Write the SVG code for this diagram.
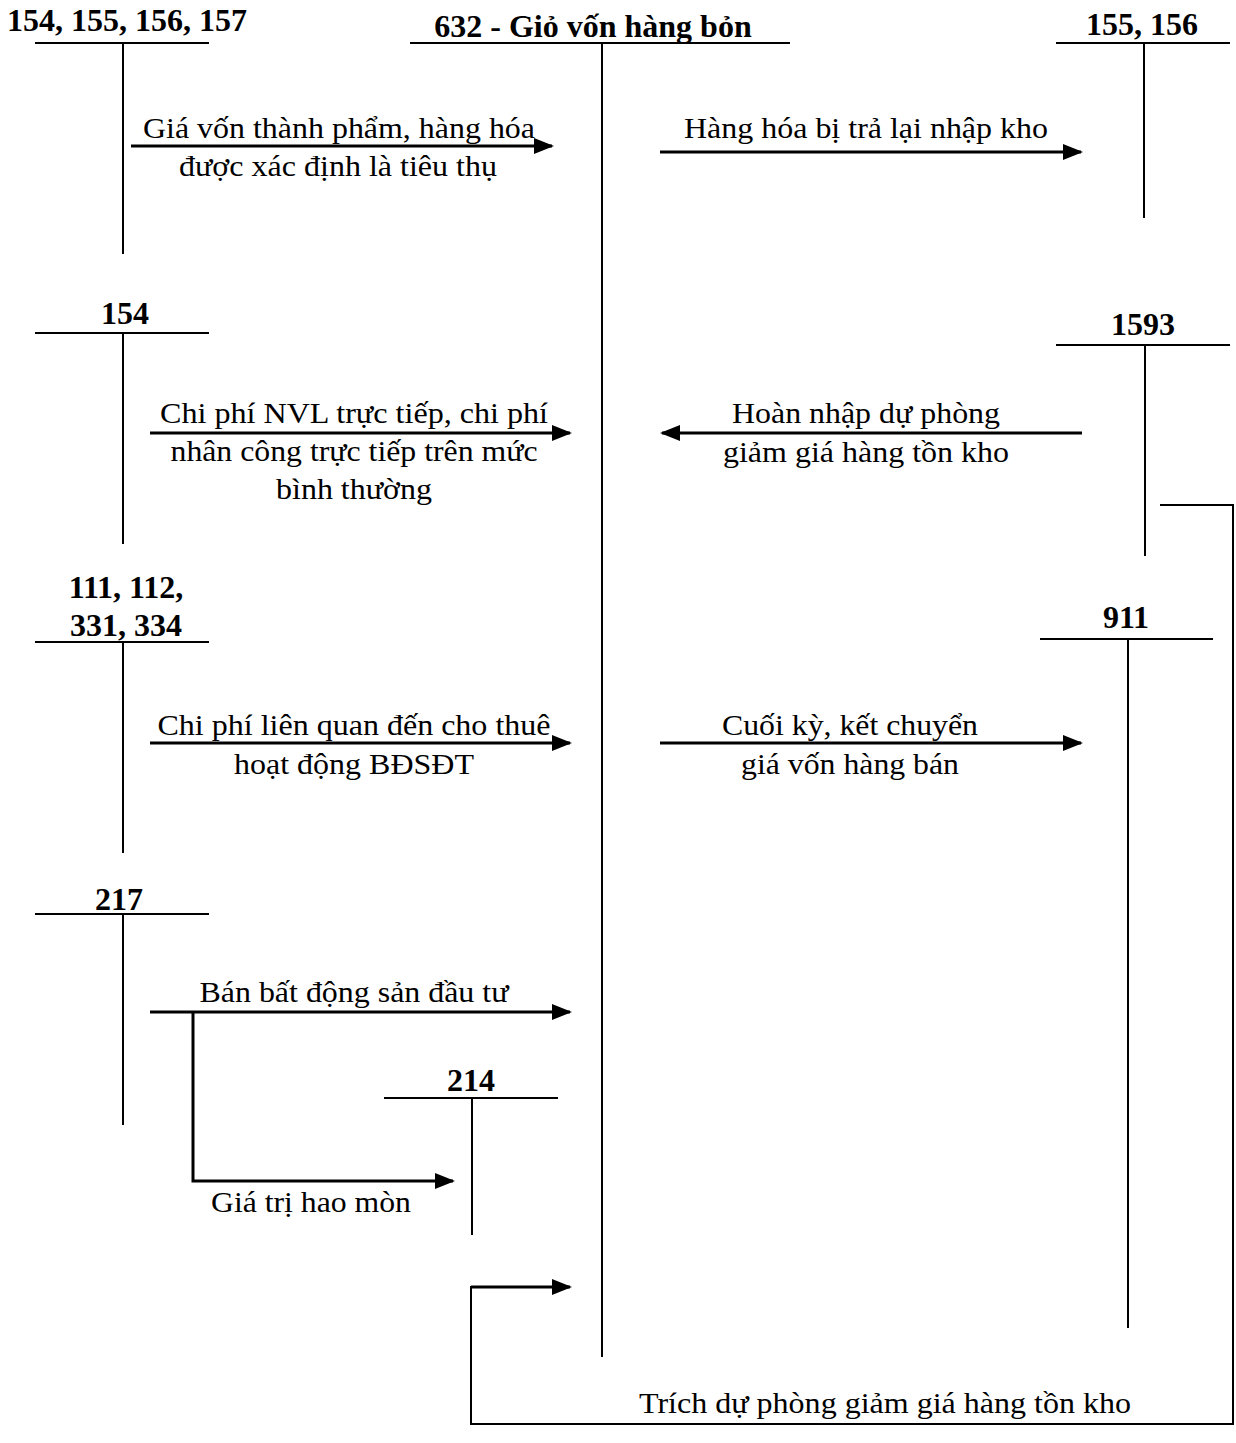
<svg xmlns="http://www.w3.org/2000/svg" width="1236" height="1443" viewBox="0 0 1236 1443">
<style>
.lbl{font-family:"Liberation Serif","Times New Roman",serif;font-weight:bold;font-size:32px;fill:#000;text-anchor:middle}
.txt{font-family:"Liberation Serif","Times New Roman",serif;font-size:30px;fill:#000;text-anchor:middle}
.t{stroke:#000;stroke-width:2;fill:none}
.a{stroke:#000;stroke-width:3;fill:none}
</style>
<defs>
<marker id="ah" markerUnits="userSpaceOnUse" markerWidth="20" markerHeight="16" refX="18" refY="8" orient="auto">
<path d="M0,0 L20,8 L0,16 Z" fill="#000"/>
</marker>
</defs>
<rect width="1236" height="1443" fill="#fff"/>

<g id="acc-154-157">
<text class="lbl" x="127" y="31">154, 155, 156, 157</text>
<line class="t" x1="35" y1="43" x2="209" y2="43"/>
<line class="t" x1="123" y1="43" x2="123" y2="254"/>
</g>
<g id="acc-632">
<text class="lbl" x="593" y="37">632 - Giỏ vốn hàng bỏn</text>
<line class="t" x1="410" y1="43" x2="790" y2="43"/>
<line class="t" x1="602" y1="43" x2="602" y2="1357"/>
</g>
<g id="acc-155-156">
<text class="lbl" x="1142" y="35">155, 156</text>
<line class="t" x1="1056" y1="43" x2="1230" y2="43"/>
<line class="t" x1="1144" y1="43" x2="1144" y2="218"/>
</g>
<g id="acc-154">
<text class="lbl" x="125" y="324">154</text>
<line class="t" x1="35" y1="333" x2="209" y2="333"/>
<line class="t" x1="123" y1="333" x2="123" y2="544"/>
</g>
<g id="acc-1593">
<text class="lbl" x="1143" y="335">1593</text>
<line class="t" x1="1056" y1="345" x2="1230" y2="345"/>
<line class="t" x1="1145" y1="345" x2="1145" y2="556"/>
</g>
<g id="acc-111-334">
<text class="lbl" x="126" y="598">111, 112,</text>
<text class="lbl" x="126" y="636">331, 334</text>
<line class="t" x1="35" y1="642" x2="209" y2="642"/>
<line class="t" x1="123" y1="642" x2="123" y2="853"/>
</g>
<g id="acc-911">
<text class="lbl" x="1126" y="628">911</text>
<line class="t" x1="1040" y1="639" x2="1213" y2="639"/>
<line class="t" x1="1128" y1="639" x2="1128" y2="1328"/>
</g>
<g id="acc-217">
<text class="lbl" x="119" y="910">217</text>
<line class="t" x1="35" y1="914" x2="209" y2="914"/>
<line class="t" x1="123" y1="914" x2="123" y2="1125"/>
</g>
<g id="acc-214">
<text class="lbl" x="471" y="1091">214</text>
<line class="t" x1="384" y1="1098" x2="558" y2="1098"/>
<line class="t" x1="472" y1="1098" x2="472" y2="1235"/>
</g>

<g id="connectors">
<line class="a" x1="131" y1="146" x2="552" y2="146" marker-end="url(#ah)"/>
<line class="a" x1="660" y1="152" x2="1081" y2="152" marker-end="url(#ah)"/>
<line class="a" x1="150" y1="433" x2="570" y2="433" marker-end="url(#ah)"/>
<line class="a" x1="1082" y1="433" x2="662" y2="433" marker-end="url(#ah)"/>
<line class="a" x1="150" y1="743" x2="570" y2="743" marker-end="url(#ah)"/>
<line class="a" x1="660" y1="743" x2="1081" y2="743" marker-end="url(#ah)"/>
<line class="a" x1="150" y1="1012" x2="570" y2="1012" marker-end="url(#ah)"/>
<polyline class="a" points="193,1012 193,1181 453,1181" marker-end="url(#ah)"/>
<polyline class="t" points="1160,505 1233,505 1233,1424 471,1424 471,1286"/>
<polyline class="a" points="471,1287 570,1287" marker-end="url(#ah)"/>
</g>

<g id="labels">
<text class="txt" x="339" y="138" textLength="392" lengthAdjust="spacingAndGlyphs">Giá vốn thành phẩm, hàng hóa</text>
<text class="txt" x="338" y="176" textLength="318" lengthAdjust="spacingAndGlyphs">được xác định là tiêu thụ</text>
<text class="txt" x="866" y="138" textLength="364" lengthAdjust="spacingAndGlyphs">Hàng hóa bị trả lại nhập kho</text>
<text class="txt" x="354" y="423" textLength="388" lengthAdjust="spacingAndGlyphs">Chi phí NVL trực tiếp, chi phí</text>
<text class="txt" x="354" y="461" textLength="367" lengthAdjust="spacingAndGlyphs">nhân công trực tiếp trên mức</text>
<text class="txt" x="354" y="499" textLength="156" lengthAdjust="spacingAndGlyphs">bình thường</text>
<text class="txt" x="866" y="423" textLength="268" lengthAdjust="spacingAndGlyphs">Hoàn nhập dự phòng</text>
<text class="txt" x="866" y="462" textLength="286" lengthAdjust="spacingAndGlyphs">giảm giá hàng tồn kho</text>
<text class="txt" x="354" y="735" textLength="393" lengthAdjust="spacingAndGlyphs">Chi phí liên quan đến cho thuê</text>
<text class="txt" x="354" y="774" textLength="240" lengthAdjust="spacingAndGlyphs">hoạt động BĐSĐT</text>
<text class="txt" x="850" y="735" textLength="256" lengthAdjust="spacingAndGlyphs">Cuối kỳ, kết chuyển</text>
<text class="txt" x="850" y="774" textLength="218" lengthAdjust="spacingAndGlyphs">giá vốn hàng bán</text>
<text class="txt" x="354" y="1002" textLength="309" lengthAdjust="spacingAndGlyphs">Bán bất động sản đầu tư</text>
<text class="txt" x="311" y="1212" textLength="200" lengthAdjust="spacingAndGlyphs">Giá trị hao mòn</text>
<text class="txt" x="885" y="1413" textLength="492" lengthAdjust="spacingAndGlyphs">Trích dự phòng giảm giá hàng tồn kho</text>
</g>
</svg>
